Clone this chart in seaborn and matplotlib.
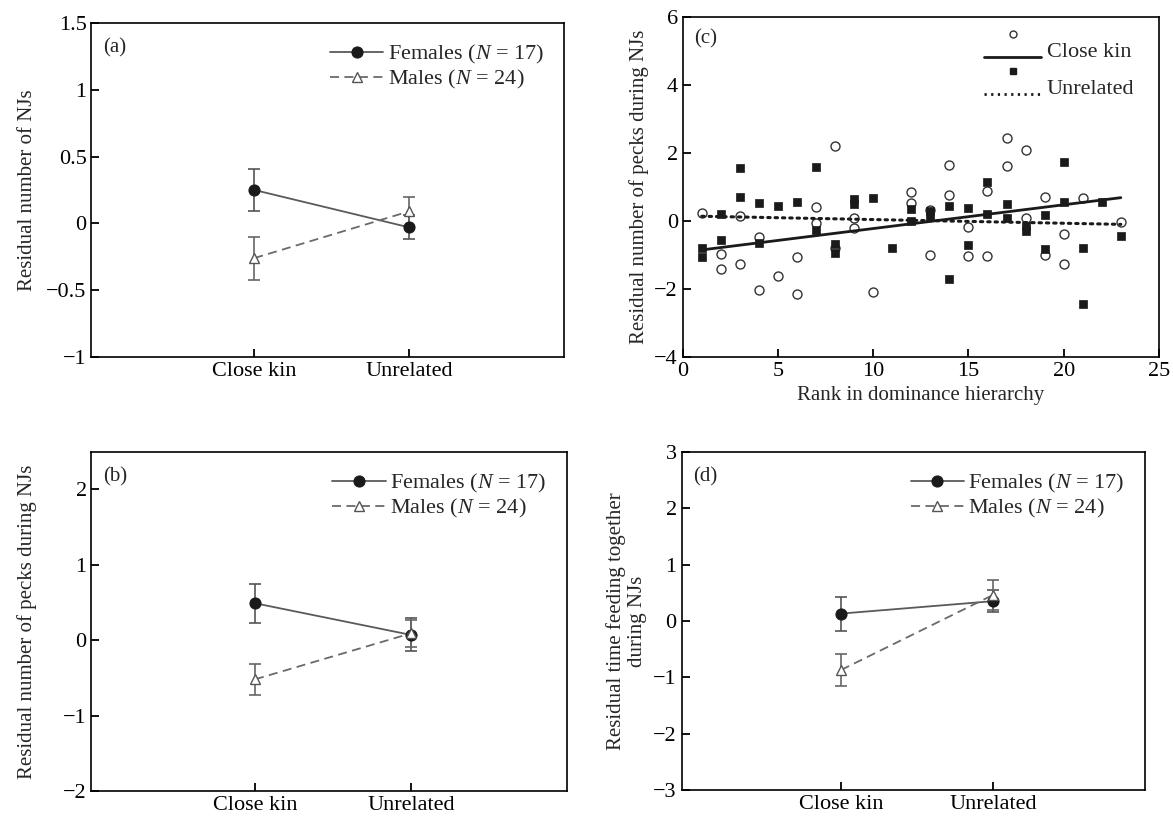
import numpy as np
import pandas as pd
import matplotlib
matplotlib.use("Agg")
import matplotlib.pyplot as plt
import seaborn as sns
from matplotlib.lines import Line2D
from matplotlib.legend_handler import HandlerBase
from matplotlib.ticker import FuncFormatter

sns.set_style("ticks")
plt.rcParams["font.family"] = ["Liberation Serif", "DejaVu Serif"]
plt.rcParams["mathtext.fontset"] = "custom"
plt.rcParams["mathtext.rm"] = "Liberation Serif"
plt.rcParams["mathtext.it"] = "Liberation Serif:italic"

#----------------------------------------------------------------------
# DATA
#----------------------------------------------------------------------
categories = ["Close kin", "Unrelated"]

# (a) residual number of NJs
njs_fem = [0.25, -0.03]
njs_fem_se = [0.16, 0.09]
njs_male = [-0.26, 0.09]
njs_male_se = [0.16, 0.11]

# (b) residual number of pecks during NJs
pecks_fem = [0.49, 0.07]
pecks_fem_se = [0.26, 0.22]
pecks_male = [-0.52, 0.09]
pecks_male_se = [0.21, 0.18]

# (d) residual time feeding together during NJs
feed_fem = [0.13, 0.35]
feed_fem_se = [0.30, 0.19]
feed_male = [-0.87, 0.46]
feed_male_se = [0.28, 0.26]

# (c) pecks vs rank
kin_rank = [1, 2, 2, 3, 3, 4, 4, 5, 6, 6, 7, 7, 8, 8, 9, 9, 10, 12, 12, 13, 13,
            14, 14, 15, 15, 16, 16, 17, 17, 18, 18, 19, 19, 20, 20, 21, 23]
kin_pecks = [0.25, -0.96, -1.42, 0.15, -1.25, -0.46, -2.04, -1.62, -1.05, -2.14,
             0.42, -0.07, 2.2, -0.8, 0.10, -0.2, -2.08, 0.85, 0.54, 0.34, -1.0,
             1.65, 0.78, -0.16, -1.03, 0.89, -1.03, 2.43, 1.62, 2.08, 0.08,
             0.71, -1.0, -0.37, -1.27, 0.67, -0.02]
unrel_rank = [1, 1, 2, 2, 3, 3, 4, 4, 5, 6, 7, 7, 8, 8, 9, 9, 10, 11, 12, 12,
              13, 13, 14, 14, 15, 15, 16, 16, 17, 17, 18, 18, 19, 19, 20, 20,
              21, 21, 22, 23]
unrel_pecks = [-0.78, -1.06, 0.22, -0.57, 1.57, 0.70, 0.54, -0.64, 0.44, 0.56,
               1.59, -0.25, -0.67, -0.93, 0.65, 0.5, 0.69, -0.80, 0.37, 0.0,
               0.3, 0.12, 0.43, -1.70, 0.39, -0.71, 1.15, 0.22, 0.49, 0.08,
               -0.15, -0.3, 0.18, -0.83, 1.74, 0.56, -0.80, -2.43, 0.56, -0.45]

FS = 15
TICK_FS = 16
LEG_FS = 16
minus_fmt = FuncFormatter(lambda v, p: f"{v:g}".replace("-", "\u2212"))


def style_axes(ax):
    for s in ax.spines.values():
        s.set_visible(True)
        s.set_color("black")
        s.set_linewidth(1.2)
    ax.tick_params(direction="in", length=6, width=1.3, labelsize=TICK_FS, colors="black")
    ax.yaxis.set_major_formatter(minus_fmt)


def sex_panel(ax, fem, fem_se, male, male_se, ylim, yticks, ylabel, tag):
    pos = list(range(len(categories)))
    ax.errorbar(pos, fem, yerr=fem_se, fmt="none", ecolor="#555555",
                elinewidth=1.2, capsize=4, capthick=1.2)
    ax.errorbar(pos, male, yerr=male_se, fmt="none", ecolor="#666666",
                elinewidth=1.2, capsize=4, capthick=1.2)
    sns.lineplot(x=pos, y=fem, color="#5a5a5a", lw=1.3, marker="o", markersize=8,
                 markerfacecolor="#1a1a1a", markeredgecolor="#1a1a1a",
                 label="Females ($\\it{N}$ = 17)", ax=ax)
    sns.lineplot(x=pos, y=male, color="#6a6a6a", lw=1.3, linestyle=(0, (5, 3)),
                 marker="^", markersize=7, markerfacecolor="white",
                 markeredgecolor="#555555", markeredgewidth=1.0,
                 label="Males ($\\it{N}$ = 24)", ax=ax)
    ax.set_xlim(-1.05, 2.0)
    ax.set_ylim(*ylim)
    ax.set_yticks(yticks)
    ax.set_xticks(pos)
    ax.set_xticklabels(categories)
    ax.set_xlabel("")
    ax.set_ylabel(ylabel, fontsize=FS)
    style_axes(ax)
    ax.legend(loc="upper right", frameon=False, fontsize=LEG_FS, handlelength=2.4,
              handletextpad=0.2, labelspacing=0.1, borderaxespad=0.5)
    ax.text(0.025, 0.955, tag, transform=ax.transAxes, fontsize=FS, va="top")


class LineWithMarkerAbove(HandlerBase):
    # legend key: fit line near the text baseline, data marker above it
    def __init__(self, line_kw, marker_kw):
        super().__init__()
        self.line_kw = line_kw
        self.marker_kw = marker_kw

    def create_artists(self, legend, orig_handle, xdescent, ydescent, width,
                       height, fontsize, trans):
        yc = (height - ydescent) / 2
        line = Line2D([-xdescent, -xdescent + width], [yc - 0.33 * fontsize] * 2,
                      **self.line_kw)
        mark = Line2D([-xdescent + width / 2], [yc + 0.7 * fontsize],
                      ls="none", **self.marker_kw)
        line.set_transform(trans)
        mark.set_transform(trans)
        return [line, mark]


fig = plt.figure(figsize=(11.73, 8.17), dpi=100)
ax_a = fig.add_axes([0.078, 0.563, 0.403, 0.409])
ax_b = fig.add_axes([0.078, 0.032, 0.405, 0.415])
ax_c = fig.add_axes([0.582, 0.563, 0.406, 0.416])
ax_d = fig.add_axes([0.581, 0.033, 0.395, 0.414])

sex_panel(ax_a, njs_fem, njs_fem_se, njs_male, njs_male_se, (-1, 1.5),
          [-1, -0.5, 0, 0.5, 1, 1.5], "Residual number of NJs", "(a)")
sex_panel(ax_b, pecks_fem, pecks_fem_se, pecks_male, pecks_male_se, (-2, 2.5),
          [-2, -1, 0, 1, 2], "Residual number of pecks during NJs", "(b)")
sex_panel(ax_d, feed_fem, feed_fem_se, feed_male, feed_male_se, (-3, 3),
          [-3, -2, -1, 0, 1, 2, 3], "Residual time feeding together\nduring NJs", "(d)")
ax_a.yaxis.set_label_coords(-0.115, 0.5)
ax_b.yaxis.set_label_coords(-0.115, 0.5)

# (c) scatter with fitted lines
sns.scatterplot(x=kin_rank, y=kin_pecks, marker="o", s=42, color="white",
                edgecolor="#333333", linewidth=1.0, ax=ax_c, zorder=3)
sns.scatterplot(x=unrel_rank, y=unrel_pecks, marker="s", s=38, color="#1a1a1a",
                edgecolor="#1a1a1a", linewidth=0.5, ax=ax_c, zorder=3)
sns.regplot(x=kin_rank, y=kin_pecks, scatter=False, ci=None, color="#1a1a1a",
            line_kws={"lw": 2.0, "zorder": 4}, ax=ax_c)
sns.regplot(x=unrel_rank, y=unrel_pecks, scatter=False, ci=None, color="#1a1a1a",
            line_kws={"lw": 2.2, "linestyle": (0, (0.8, 1.6)), "dash_capstyle": "round",
                      "zorder": 4}, ax=ax_c)
ax_c.set_xlim(0, 25)
ax_c.set_ylim(-4, 6)
ax_c.set_xticks([0, 5, 10, 15, 20, 25])
ax_c.set_yticks([-4, -2, 0, 2, 4, 6])
ax_c.set_xlabel("Rank in dominance hierarchy", fontsize=FS)
ax_c.set_ylabel("Residual number of pecks during NJs", fontsize=FS)
style_axes(ax_c)
ax_c.text(0.025, 0.965, "(c)", transform=ax_c.transAxes, fontsize=FS, va="top")

kin_key = Line2D([], [], color="#1a1a1a")
unrel_key = Line2D([], [], color="#1a1a1a")
ax_c.legend([kin_key, unrel_key], ["Close kin", "Unrelated"],
            handler_map={
                kin_key: LineWithMarkerAbove(
                    {"color": "#1a1a1a", "lw": 2.0},
                    {"marker": "o", "ms": 5, "mfc": "white", "mec": "#333333", "mew": 1.0}),
                unrel_key: LineWithMarkerAbove(
                    {"color": "#1a1a1a", "lw": 2.0, "linestyle": (0, (0.8, 1.6))},
                    {"marker": "s", "ms": 4.5, "mfc": "#1a1a1a", "mec": "#1a1a1a"}),
            },
            loc="upper right", frameon=False, fontsize=LEG_FS, handlelength=2.6,
            handletextpad=0.25, labelspacing=0.75, borderaxespad=0.2,
            borderpad=0.9)

fig.savefig("out.png", dpi=100)
